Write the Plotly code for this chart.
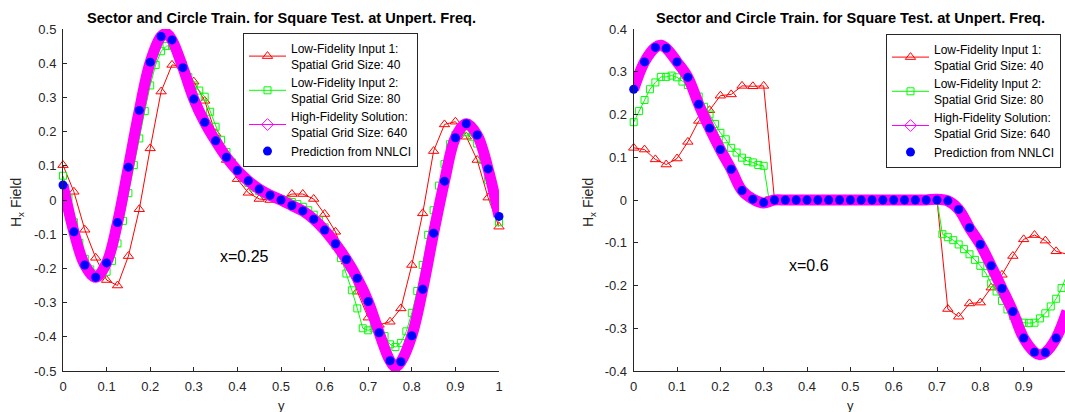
import numpy as np
import plotly.graph_objects as go

W, H = 1065, 412
FONT = "Liberation Sans, Arial, Helvetica, sans-serif"

TITLE = "Sector and Circle Train. for Square Test. at Unpert. Freq."
LEGEND_NAMES = ["Low-Fidelity Input 1:<br>Spatial Grid Size: 40",
                "Low-Fidelity Input 2:<br>Spatial Grid Size: 80",
                "High-Fidelity Solution:<br>Spatial Grid Size: 640",
                "Prediction from NNLCI"]

# ---------------- Left panel (x=0.25) ----------------
left_red = [0.102, 0.024, -0.087, -0.169, -0.234, -0.25, -0.164, -0.027, 0.151, 0.317,
            0.395, 0.39, 0.346, 0.29, 0.195, 0.117, 0.061, 0.021, 0.003, 0.0,
            0.003, 0.0175, 0.0175, 0.003, -0.041, -0.093, -0.18, -0.268, -0.344, -0.365,
            -0.356, -0.317, -0.19, -0.039, 0.143, 0.221, 0.229, 0.185, 0.117, 0.007,
            -0.078]
left_green = [0.071, 0.005, -0.065, -0.125, -0.172, -0.203, -0.215, -0.218, -0.21, -0.178,
              -0.127, -0.061, 0.02, 0.102, 0.18, 0.26, 0.335, 0.395, 0.435, 0.45,
              0.452, 0.43, 0.395, 0.36, 0.335, 0.32, 0.302, 0.258, 0.214, 0.176,
              0.14, 0.11, 0.085, 0.066, 0.05, 0.036, 0.026, 0.018, 0.012, 0.007,
              0.003, -0.001, -0.006, -0.012, -0.02, -0.03, -0.043, -0.06, -0.08, -0.103,
              -0.133, -0.17, -0.215, -0.264, -0.317, -0.375, -0.381, -0.375, -0.388, -0.398,
              -0.422, -0.43, -0.418, -0.384, -0.33, -0.266, -0.19, -0.102, -0.03, 0.042,
              0.105, 0.163, 0.19, 0.2, 0.198, 0.185, 0.165, 0.117, 0.058, 0.0,
              -0.065]
left_hf_y = [0, 0.025, 0.05, 0.075, 0.1, 0.125, 0.15, 0.175, 0.2, 0.225, 0.2375, 0.25,
             0.275, 0.3, 0.325, 0.35, 0.375, 0.4, 0.425, 0.45, 0.475, 0.5, 0.525, 0.55,
             0.575, 0.6, 0.625, 0.65, 0.675, 0.7, 0.725, 0.75, 0.7625, 0.775, 0.8, 0.825,
             0.85, 0.875, 0.9, 0.925, 0.95, 0.975, 1.0]
left_hf = [0.044, -0.093, -0.19, -0.226, -0.184, -0.066, 0.096, 0.262, 0.403, 0.478, 0.487, 0.468,
           0.387, 0.295, 0.227, 0.173, 0.125, 0.086, 0.056, 0.032, 0.014, 0.0, -0.016, -0.032,
           -0.056, -0.088, -0.128, -0.174, -0.229, -0.297, -0.388, -0.47, -0.488, -0.473, -0.397, -0.261,
           -0.097, 0.055, 0.182, 0.223, 0.19, 0.091, -0.048]
left_nn = [0.044, -0.093, -0.19, -0.226, -0.184, -0.066, 0.096, 0.262, 0.403, 0.478,
           0.468, 0.387, 0.295, 0.227, 0.173, 0.125, 0.086, 0.056, 0.032, 0.014,
           0.0, -0.016, -0.032, -0.056, -0.088, -0.128, -0.174, -0.229, -0.297, -0.388,
           -0.47, -0.473, -0.397, -0.261, -0.097, 0.055, 0.182, 0.223, 0.19, 0.091,
           -0.048]

# ---------------- Right panel (x=0.6) ----------------
right_red = [0.122, 0.118, 0.095, 0.083, 0.097, 0.136, 0.185, 0.21, 0.244, 0.247,
             0.267, 0.266, 0.267, 0.0, 0.0, 0.0, 0.0, 0.0, 0.0, 0.0,
             0.0, 0.0, 0.0, 0.0, 0.0, 0.0, 0.0, 0.0, 0.0, -0.255,
             -0.273, -0.242, -0.24, -0.205, -0.175, -0.131, -0.092, -0.082, -0.095, -0.12,
             -0.127]
right_green = [0.182, 0.208, 0.234, 0.259, 0.275, 0.288, 0.288, 0.291, 0.287, 0.277,
               0.269, 0.255, 0.242, 0.218, 0.2, 0.178, 0.157, 0.142, 0.122, 0.111,
               0.099, 0.091, 0.088, 0.082, 0.08,
               0.0, 0.0, 0.0, 0.0, 0.0, 0.0, 0.0, 0.0, 0.0, 0.0,
               0.0, 0.0, 0.0, 0.0, 0.0, 0.0, 0.0, 0.0, 0.0, 0.0,
               0.0, 0.0, 0.0, 0.0, 0.0, 0.0, 0.0, 0.0, 0.0, 0.0,
               0.0, 0.0,
               -0.08, -0.087, -0.094, -0.104, -0.115, -0.127, -0.14, -0.154, -0.171, -0.195,
               -0.214, -0.236, -0.256, -0.271, -0.284, -0.287, -0.288, -0.287, -0.277, -0.265,
               -0.249, -0.231, -0.206, -0.175]
right_hf_y = [0, 0.025, 0.05, 0.0625, 0.075, 0.1, 0.125, 0.15, 0.175, 0.2, 0.225, 0.25,
              0.275, 0.3, 0.325, 0.35, 0.375, 0.4, 0.425, 0.45, 0.475, 0.5, 0.525, 0.55,
              0.575, 0.6, 0.625, 0.65, 0.675, 0.7, 0.725, 0.75, 0.775, 0.8, 0.825, 0.85,
              0.875, 0.9, 0.925, 0.9375, 0.95, 0.975, 1.0]
right_hf = [0.259, 0.323, 0.357, 0.362, 0.355, 0.323, 0.287, 0.224, 0.168, 0.118, 0.072, 0.022,
            0.002, -0.007, 0.0, 0.0, 0.0, 0.0, 0.0, 0.0, 0.0, 0.0, 0.0, 0.0,
            0.0, 0.0, 0.0, 0.0, 0.0, 0.002, -0.002, -0.022, -0.065, -0.104, -0.154, -0.207,
            -0.261, -0.323, -0.356, -0.362, -0.357, -0.323, -0.26]
right_nn = [0.259, 0.323, 0.357, 0.355, 0.323, 0.287, 0.224, 0.168, 0.118, 0.072,
            0.022, 0.002, -0.006, 0.0, 0.0, 0.0, 0.0, 0.0, 0.0, 0.0,
            0.0, 0.0, 0.0, 0.0, 0.0, 0.0, 0.0, 0.0, 0.0, -0.002,
            -0.022, -0.065, -0.104, -0.154, -0.207, -0.261, -0.323, -0.356, -0.357, -0.323,
            -0.26]

x_ticks = [0, 0.1, 0.2, 0.3, 0.4, 0.5, 0.6, 0.7, 0.8, 0.9, 1]
x_ticktext = ["0", "0.1", "0.2", "0.3", "0.4", "0.5", "0.6", "0.7", "0.8", "0.9", "1"]
left_yticks = [-0.5, -0.4, -0.3, -0.2, -0.1, 0, 0.1, 0.2, 0.3, 0.4, 0.5]
left_yticktext = ["-0.5", "-0.4", "-0.3", "-0.2", "-0.1", "0", "0.1", "0.2", "0.3", "0.4", "0.5"]
right_yticks = [-0.4, -0.3, -0.2, -0.1, 0, 0.1, 0.2, 0.3, 0.4]
right_yticktext = ["-0.4", "-0.3", "-0.2", "-0.1", "0", "0.1", "0.2", "0.3", "0.4"]


def grid(vals):
    n = len(vals)
    return [i / (n - 1) for i in range(n)]


fig = go.Figure()


def add_panel(red, green, hf_y, hf, nn, xa, ya, leg):
    fig.add_trace(go.Scatter(x=grid(red), y=red, mode="lines+markers", name=LEGEND_NAMES[0],
                             line=dict(color="#FF0000", width=1),
                             marker=dict(symbol="triangle-up-open", size=9, color="#FF0000",
                                         line=dict(width=1)),
                             xaxis=xa, yaxis=ya, legend=leg, cliponaxis=False))
    fig.add_trace(go.Scatter(x=grid(green), y=green, mode="lines+markers", name=LEGEND_NAMES[1],
                             line=dict(color="#00FF00", width=1),
                             marker=dict(symbol="square-open", size=7, color="#00FF00",
                                         line=dict(width=1)),
                             xaxis=xa, yaxis=ya, legend=leg, cliponaxis=False))
    fig.add_trace(go.Scatter(x=hf_y, y=hf, mode="lines", showlegend=False,
                             line=dict(color="#FF00FF", width=11, shape="spline", smoothing=1.0),
                             xaxis=xa, yaxis=ya, hoverinfo="skip"))
    fig.add_trace(go.Scatter(x=[None], y=[None], mode="lines+markers", name=LEGEND_NAMES[2],
                             line=dict(color="#FF00FF", width=1),
                             marker=dict(symbol="diamond-open", size=9, color="#FF00FF",
                                         line=dict(width=1)),
                             xaxis=xa, yaxis=ya, legend=leg))
    fig.add_trace(go.Scatter(x=grid(nn), y=nn, mode="markers", name=LEGEND_NAMES[3],
                             marker=dict(symbol="circle", size=9, color="#0000FF"),
                             xaxis=xa, yaxis=ya, legend=leg, cliponaxis=False))


add_panel(left_red, left_green, left_hf_y, left_hf, left_nn, "x", "y", "legend")
add_panel(right_red, right_green, right_hf_y, right_hf, right_nn, "x2", "y2", "legend2")

ax_common = dict(showline=True, linecolor="#262626", linewidth=1, ticks="inside", ticklen=4,
                 tickcolor="#262626", tickwidth=1, showgrid=False, zeroline=False,
                 tickfont=dict(family=FONT, size=13, color="#262626"), automargin=False,
                 ticklabelstandoff=3, fixedrange=True)

ytop, ybot = 1 - 29 / H, 1 - 371 / H
x2_end = (1065 - 633.7) / 433.3

legend_common = dict(xanchor="left", yanchor="top", bordercolor="#262626", borderwidth=1,
                     bgcolor="white", font=dict(family=FONT, size=12, color="#000000"),
                     tracegroupgap=0, itemclick=False, itemwidth=37)

fig.update_layout(
    width=W, height=H, margin=dict(l=0, r=0, t=0, b=0, autoexpand=False),
    paper_bgcolor="white", plot_bgcolor="white",
    font=dict(family=FONT, color="#262626"),
    xaxis=dict(domain=[63 / W, 499 / W], range=[0, 1], tickvals=x_ticks, ticktext=x_ticktext,
               anchor="y", **ax_common),
    yaxis=dict(domain=[ybot, ytop], range=[-0.5, 0.5], tickvals=left_yticks,
               ticktext=left_yticktext, anchor="x", **ax_common),
    xaxis2=dict(domain=[633.7 / W, 1.0], range=[0, x2_end], tickvals=x_ticks, ticktext=x_ticktext,
                anchor="y2", **ax_common),
    yaxis2=dict(domain=[ybot, ytop], range=[-0.4, 0.4], tickvals=right_yticks,
                ticktext=right_yticktext, anchor="x2", **ax_common),
    legend=dict(x=243 / W, y=1 - 33 / H, **legend_common),
    legend2=dict(x=886 / W, y=1 - 34 / H, **legend_common),
    showlegend=True,
)

ann_font = dict(family=FONT, size=13, color="#262626")
lab_font = dict(family=FONT, size=14, color="#262626")
annotations = [
    dict(text="<b>" + TITLE + "</b>", x=281 / W, y=1 - 18 / H, xref="paper", yref="paper",
         showarrow=False, xanchor="center", yanchor="middle",
         font=dict(family=FONT, size=14.6, color="#000000")),
    dict(text="<b>" + TITLE + "</b>", x=850 / W, y=1 - 18 / H, xref="paper", yref="paper",
         showarrow=False, xanchor="center", yanchor="middle",
         font=dict(family=FONT, size=14.6, color="#000000")),
    dict(text="y", x=281 / W, y=1 - 405 / H, xref="paper", yref="paper", showarrow=False,
         xanchor="center", yanchor="middle", font=ann_font),
    dict(text="y", x=850 / W, y=1 - 405 / H, xref="paper", yref="paper", showarrow=False,
         xanchor="center", yanchor="middle", font=ann_font),
    dict(text="H<sub>x</sub> Field", x=17 / W, y=1 - 203 / H, xref="paper", yref="paper",
         showarrow=False, textangle=-90, xanchor="center", yanchor="middle", font=lab_font),
    dict(text="H<sub>x</sub> Field", x=589 / W, y=1 - 203 / H, xref="paper", yref="paper",
         showarrow=False, textangle=-90, xanchor="center", yanchor="middle", font=lab_font),
    dict(text="x=0.25", x=0.417, y=-0.164, xref="x", yref="y", showarrow=False,
         xanchor="center", yanchor="middle", font=dict(family=FONT, size=16, color="#000000")),
    dict(text="x=0.6", x=0.405, y=-0.153, xref="x2", yref="y2", showarrow=False,
         xanchor="center", yanchor="middle", font=dict(family=FONT, size=16, color="#000000")),
]
fig.update_layout(annotations=annotations)

fig.write_html("out.html")
